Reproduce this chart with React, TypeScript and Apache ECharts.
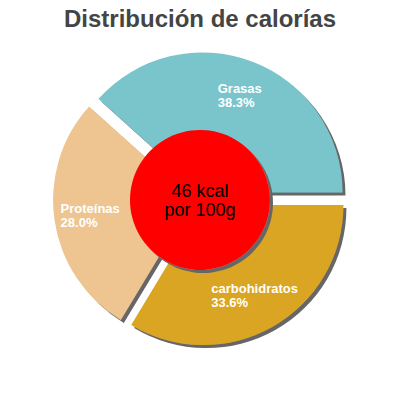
import { useEffect, useRef } from 'react';
import * as echarts from 'echarts';

// ---------------------------------------------------------------------------
// Data
// ---------------------------------------------------------------------------

const TITLE = 'Distribución de calorías';
const CATEGORIES = ['Grasas', 'Proteínas', 'carbohidratos'];
const VALUES = [38.3, 28.0, 33.6];
const COLORS = ['#7ac4cc', '#eec591', '#daa520'];
const CENTER_LINES = ['46 kcal', 'por 100g'];

const FONT = '"Liberation Sans", Arial, sans-serif';
const SHADOW = {
  shadowColor: '#666666',
  shadowBlur: 0,
  shadowOffsetX: 3,
  shadowOffsetY: 3,
};

function buildOption(): echarts.EChartsOption {
  return {
    animation: false,
    title: {
      text: TITLE,
      left: 'center',
      top: 1,
      textStyle: { fontFamily: FONT, fontSize: 24, fontWeight: 'bold', color: '#444444' },
    },
    series: [
      {
        type: 'pie',
        center: [200, 199],
        radius: [62, 140],
        startAngle: 0,
        clockwise: false,
        selectedMode: 'multiple',
        selectedOffset: 7,
        silent: true,
        itemStyle: { ...SHADOW },
        label: {
          show: true,
          position: 'inside',
          formatter: (p: any) => `${p.name}\n${p.value.toFixed(1)}%`,
          color: '#ffffff',
          fontFamily: FONT,
          fontSize: 13,
          fontWeight: 'bold',
          lineHeight: 14,
        },
        labelLine: { show: false },
        labelLayout: (p: any) => ({ align: 'left', dx: -p.labelRect.width / 2 }),
        emphasis: { disabled: true },
        data: CATEGORIES.map((name, i) => ({
          name,
          value: VALUES[i],
          selected: true,
          itemStyle: { color: COLORS[i] },
        })),
      },
      {
        type: 'pie',
        center: [200, 200],
        radius: [0, 70],
        silent: true,
        itemStyle: { color: '#ff0000', ...SHADOW },
        label: {
          show: true,
          position: 'center',
          formatter: CENTER_LINES.join('\n'),
          color: '#000000',
          fontFamily: FONT,
          fontSize: 18,
          lineHeight: 19,
        },
        labelLine: { show: false },
        emphasis: { disabled: true },
        data: [{ name: 'kcal', value: 1 }],
      },
    ],
  };
}

export default function App() {
  const ref = useRef<HTMLDivElement | null>(null);

  useEffect(() => {
    if (!ref.current) return;
    const chart = echarts.init(ref.current, undefined, { renderer: 'svg' });
    chart.setOption(buildOption());
    return () => chart.dispose();
  }, []);

  return (
    <div
      ref={ref}
      style={{ position: 'fixed', left: 0, top: 0, width: 400, height: 400, background: '#ffffff' }}
    />
  );
}
